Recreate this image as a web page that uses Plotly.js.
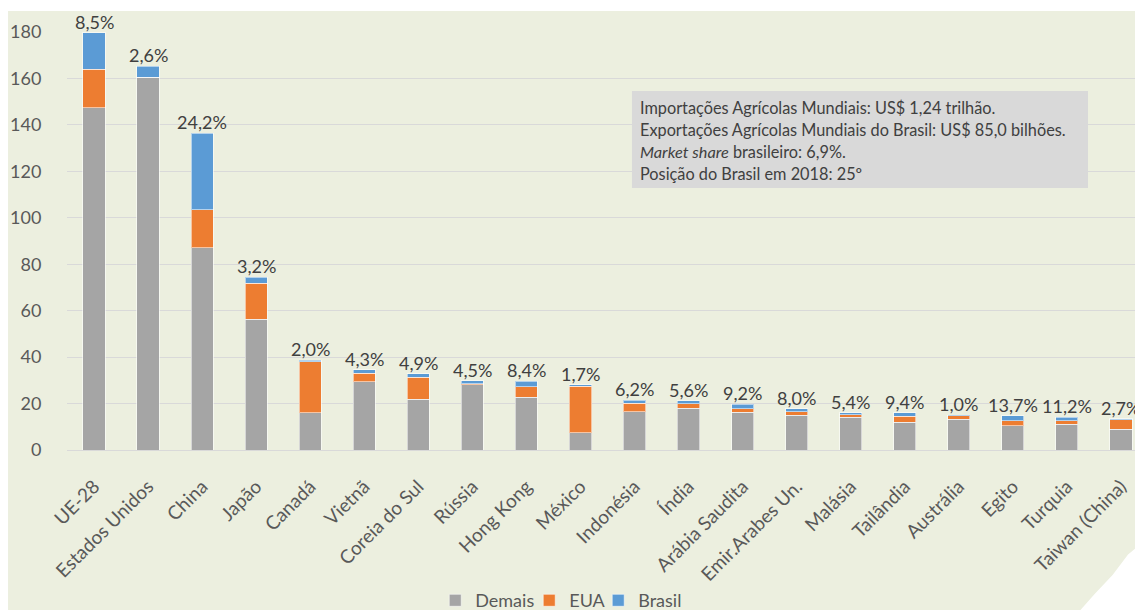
<!DOCTYPE html>
<html>
<head>
<meta charset="utf-8">
<script src="https://cdn.plot.ly/plotly-3.0.1.min.js"></script>
<style>html,body{margin:0;padding:0;background:#fff;overflow:hidden;}#chart{width:1135px;height:610px;}</style>
</head>
<body>
<div id="chart"></div>
<script>
const categories = ["UE-28","Estados Unidos","China","Japão","Canadá","Vietnã","Coreia do Sul","Rússia","Hong Kong","México","Indonésia","Índia","Arábia Saudita","Emir.Arabes Un.","Malásia","Tailândia","Austrália","Egito","Turquia","Taiwan (China)"];
const demais = [147.4,160.6,87.2,56.4,16.1,29.4,21.8,28.0,22.7,7.5,16.5,17.9,16.2,15.0,14.0,12.0,13.3,10.5,11.0,9.0];
const eua    = [16.5,0,16.3,15.5,21.8,3.6,9.5,0.5,4.5,20.0,3.7,2.1,1.6,1.4,1.2,2.6,1.45,2.2,1.6,4.1];
const brasil = [15.8,4.6,33.0,2.5,0.8,1.5,1.6,1.3,2.5,0.5,1.3,1.2,1.8,1.4,0.9,1.5,0.15,2.0,1.6,0.4];
const shares = ["8,5%","2,6%","24,2%","3,2%","2,0%","4,3%","4,9%","4,5%","8,4%","1,7%","6,2%","5,6%","9,2%","8,0%","5,4%","9,4%","1,0%","13,7%","11,2%","2,7%"];
const boxLines = ["Importações Agrícolas Mundiais: US$ 1,24 trilhão.","Exportações Agrícolas Mundiais do Brasil: US$ 85,0 bilhões.","<i>Market share</i> brasileiro: 6,9%.","Posição do Brasil em 2018: 25º"];
const yTicks = [0,20,40,60,80,100,120,140,160,180];

const FONT = "Lato, 'Open Sans', sans-serif";
const lineStyle = {color:"rgba(255,255,255,0.55)", width:1};

const traces = [
  {type:"bar", name:"Demais", x:categories, y:demais, marker:{color:"#A5A5A5", line:lineStyle}, legend:"legend"},
  {type:"bar", name:"EUA", x:categories, y:eua, marker:{color:"#ED7D31", line:lineStyle}, legend:"legend2"},
  {type:"bar", name:"Brasil", x:categories, y:brasil, marker:{color:"#5B9BD5", line:lineStyle}, legend:"legend3"}
];

const totals = categories.map((c,i)=>demais[i]+eua[i]+brasil[i]);
const annotations = categories.map((c,i)=>({
  x:c, y:totals[i], xref:"x", yref:"y", text:shares[i], showarrow:false,
  yanchor:"bottom", yshift:-2, font:{family:FONT, size:18, color:"#404040"}
}));
// info box lines, one annotation per line (pixel centres 107,129,151,173)
boxLines.forEach((t,k)=>{
  annotations.push({
    xref:"paper", yref:"paper", x:0.5345, y:(450-(107+22*k))/418, xanchor:"left", yanchor:"middle",
    align:"left", showarrow:false, text:t,
    font:{family:FONT, size:16.3, color:"#404040"}
  });
});

const shapes = [
  {type:"rect", xref:"paper", yref:"paper", x0:0.529, x1:0.956, y0:0.627, y1:0.859, fillcolor:"#D9D9D9", line:{width:0}, layer:"above"},
  {type:"rect", xref:"paper", yref:"paper", x0:-0.1, x1:1.05, y0:1.0502, y1:1.12, fillcolor:"#FFFFFF", line:{width:0}, layer:"above"},
  {type:"rect", xref:"paper", yref:"paper", x0:-0.1, x1:-0.0552, y0:-0.4, y1:1.12, fillcolor:"#FFFFFF", line:{width:0}, layer:"above"},
  {type:"path", xref:"paper", yref:"paper", path:"M 1.01 -0.2153 L 1.01 -0.40 L 0.943 -0.40 L 0.962 -0.345 L 0.979 -0.299 L 0.9935 -0.250 Z", fillcolor:"#FFFFFF", line:{width:0}, layer:"above"}
];

const legBase = {orientation:"h", yanchor:"top", y:-0.316, xanchor:"left", bgcolor:"rgba(0,0,0,0)",
  font:{family:FONT, size:18, color:"#595959"}, itemwidth:30};

const layout = {
  width:1135, height:610,
  margin:{l:67, r:0, t:32, b:160, autoexpand:false},
  paper_bgcolor:"#ECEFDF", plot_bgcolor:"rgba(0,0,0,0)",
  barmode:"stack", bargap:0.59,
  font:{family:FONT, size:16, color:"#595959"},
  xaxis:{type:"category", range:[-0.5,19.26], tickangle:-45, showgrid:false, showline:false, zeroline:false,
         ticks:"outside", ticklen:17, tickcolor:"rgba(0,0,0,0)",
         tickfont:{family:FONT, size:19, color:"#595959"}, automargin:false},
  yaxis:{range:[0,180], tickvals:yTicks, showgrid:true, gridcolor:"#D9D9D9", gridwidth:1, zeroline:true, zerolinecolor:"#D9D9D9", zerolinewidth:1,
         showline:false, ticks:"outside", ticklen:21, tickcolor:"rgba(0,0,0,0)", tickfont:{family:FONT, size:18, color:"#595959"}, automargin:false},
  showlegend:true,
  legend:Object.assign({}, legBase, {x:0.3448}),
  legend2:Object.assign({}, legBase, {x:0.4328}),
  legend3:Object.assign({}, legBase, {x:0.4974}),
  annotations:annotations,
  shapes:shapes
};

Plotly.newPlot("chart", traces, layout, {displayModeBar:false, staticPlot:true});
</script>
</body>
</html>
